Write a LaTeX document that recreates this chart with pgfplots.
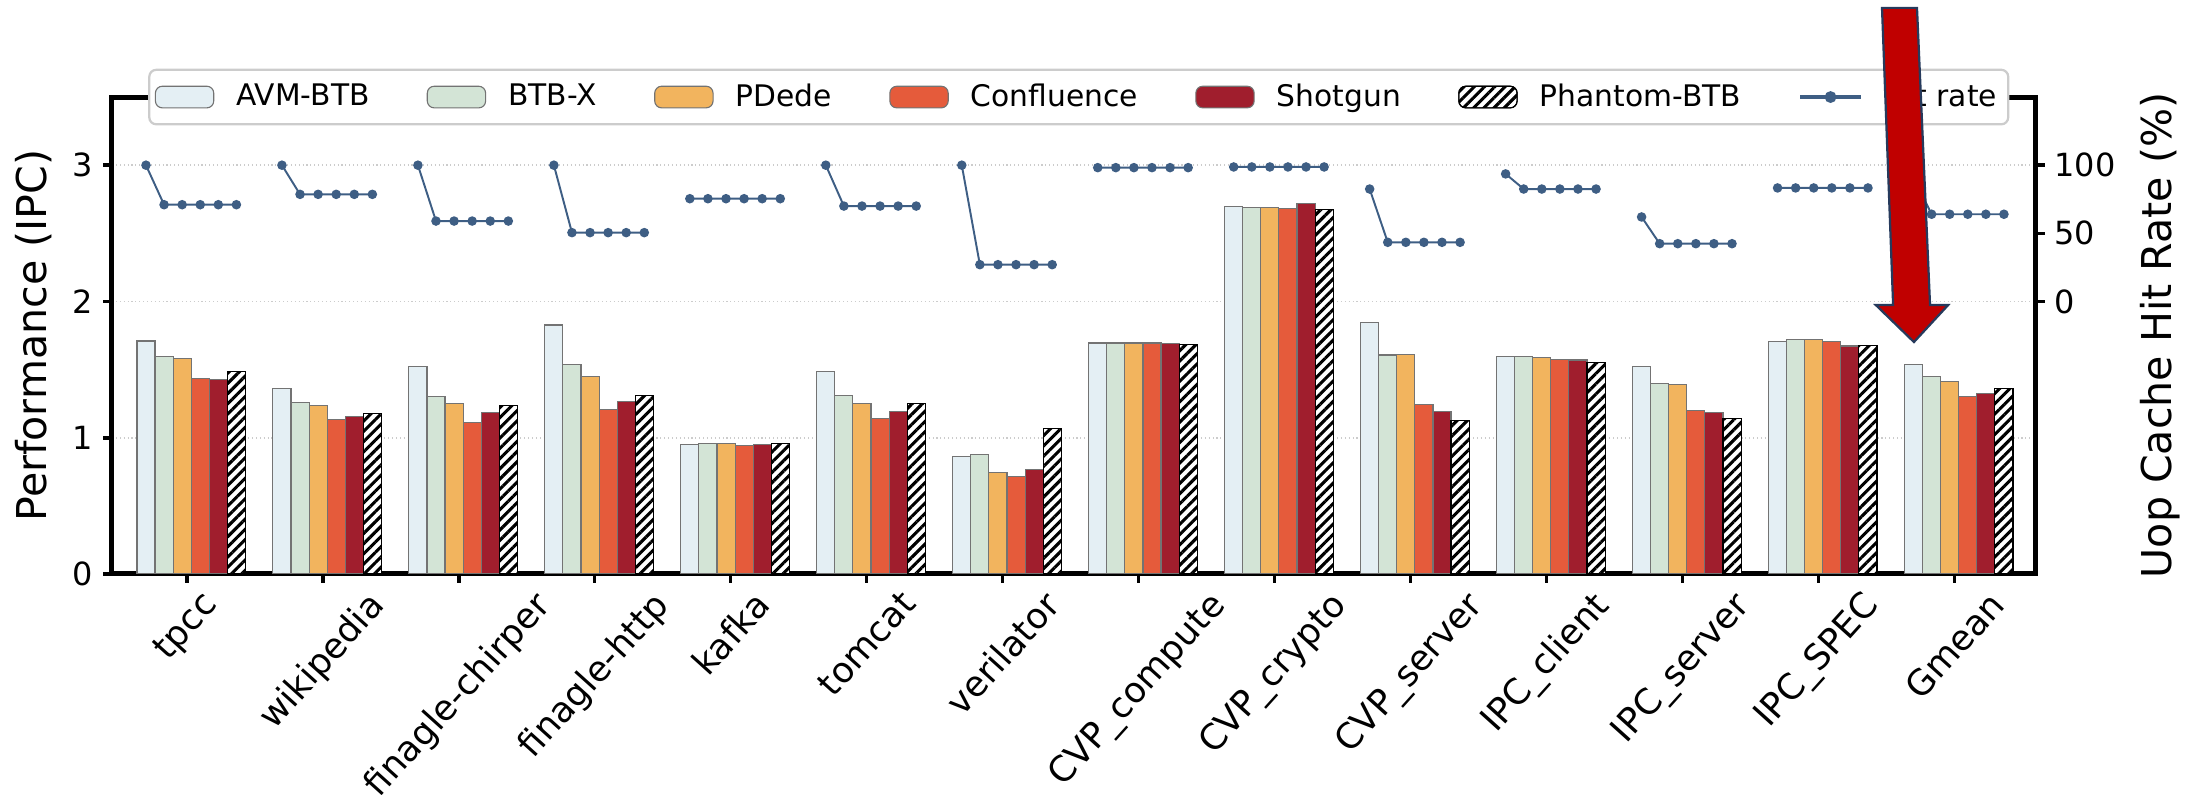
\documentclass[border=0pt]{standalone}
\usepackage{graphicx}
\usepackage{pgfplots}
\usepackage{pgfplotstable}
\pgfplotsset{compat=1.18}
\usetikzlibrary{patterns.meta}
\usepackage{fontspec}
\setmainfont{DejaVu Sans}

\definecolor{avmc}{RGB}{228,239,244}
\definecolor{btbxc}{RGB}{211,228,214}
\definecolor{pdedec}{RGB}{242,180,94}
\definecolor{confc}{RGB}{229,91,59}
\definecolor{shotc}{RGB}{160,30,45}
\definecolor{linec}{RGB}{62,94,132}
\definecolor{arrowred}{RGB}{192,0,0}
\definecolor{arrowedge}{RGB}{38,58,92}

\newcommand{\rl}[1]{\rotatebox{48}{#1}}

\pgfplotsset{
  barleg/.style={legend image code/.code={\draw[##1] (0pt,-3.9pt) rectangle (21pt,3.9pt);}},
  lineleg/.style={legend image code/.code={\draw[mark repeat=2,mark phase=2,##1] plot coordinates {(0pt,0pt) (11pt,0pt) (22pt,0pt)};}},
  mybar/.style={ybar, bar width=0.133, draw=black!55, line width=0.4pt, barleg},
}

\pgfplotstableread{
x avm btbx pdede conf shot phantom
0 1.71 1.597 1.58 1.433 1.425 1.484
1 1.36 1.259 1.237 1.134 1.156 1.176
2 1.523 1.305 1.249 1.109 1.185 1.234
3 1.827 1.54 1.45 1.205 1.269 1.31
4 0.948 0.955 0.955 0.945 0.953 0.958
5 1.489 1.308 1.249 1.141 1.193 1.249
6 0.865 0.877 0.742 0.715 0.767 1.065
7 1.695 1.695 1.695 1.695 1.692 1.687
8 2.694 2.692 2.687 2.679 2.719 2.677
9 1.844 1.607 1.614 1.242 1.195 1.129
10 1.597 1.597 1.587 1.575 1.57 1.553
11 1.521 1.396 1.391 1.203 1.185 1.139
12 1.707 1.719 1.719 1.707 1.673 1.675
13 1.54 1.45 1.413 1.303 1.323 1.359
}\bardata

\pgfplotstableread{
x rate
-0.300 100
-0.167 71
-0.034 71
0.099 71
0.232 71
0.365 71
0.5 nan
0.700 100
0.833 78.6
0.966 78.6
1.099 78.6
1.232 78.6
1.365 78.6
1.5 nan
1.700 100
1.833 59
1.966 59
2.099 59
2.232 59
2.365 59
2.5 nan
2.700 100
2.833 50.5
2.966 50.5
3.099 50.5
3.232 50.5
3.365 50.5
3.5 nan
3.700 75.4
3.833 75.4
3.966 75.4
4.099 75.4
4.232 75.4
4.365 75.4
4.5 nan
4.700 100
4.833 70
4.966 70
5.099 70
5.232 70
5.365 70
5.5 nan
5.700 100
5.833 27
5.966 27
6.099 27
6.232 27
6.365 27
6.5 nan
6.700 98.2
6.833 98.2
6.966 98.2
7.099 98.2
7.232 98.2
7.365 98.2
7.5 nan
7.700 98.7
7.833 98.7
7.966 98.7
8.099 98.7
8.232 98.7
8.365 98.7
8.5 nan
8.700 82.5
8.833 43.4
8.966 43.4
9.099 43.4
9.232 43.4
9.365 43.4
9.5 nan
9.700 93.6
9.833 82.5
9.966 82.5
10.099 82.5
10.232 82.5
10.365 82.5
10.5 nan
10.700 62
10.833 42.4
10.966 42.4
11.099 42.4
11.232 42.4
11.365 42.4
11.5 nan
11.700 83.3
11.833 83.3
11.966 83.3
12.099 83.3
12.232 83.3
12.365 83.3
12.5 nan
12.700 91
12.833 64
12.966 64
13.099 64
13.232 64
13.365 64
}\ratedata

\begin{document}
\begin{tikzpicture}
\begin{axis}[
  at={(0,0)}, anchor=south west,
  width=692.6pt, height=171.7pt, scale only axis,
  xmin=-0.55, xmax=13.6, ymin=0, ymax=3.5,
  ytick={0,1,2,3},
  xtick={0,1,2,3,4,5,6,7,8,9,10,11,12,13},
  xticklabels={{\rl{tpcc}},{\rl{wikipedia}},{\rl{finagle-chirper}},{\rl{finagle-http}},{\rl{kafka}},{\rl{tomcat}},{\rl{verilator}},{\rl{CVP\_compute}},{\rl{CVP\_crypto}},{\rl{CVP\_server}},{\rl{IPC\_client}},{\rl{IPC\_server}},{\rl{IPC\_SPEC}},{\rl{Gmean}}},
  xticklabel style={anchor=north, inner sep=2pt, font=\fontsize{12.7}{15}\selectfont},
  yticklabel style={font=\fontsize{11.5}{13}\selectfont},
  /pgf/number format/assume math mode=true,
  xtick pos=left, ytick pos=left,
  tick align=outside,
  major tick length=3.2pt,
  tick style={line width=1.3pt, black},
  axis line style={line width=1.8pt},
  ymajorgrids,
  major grid style={densely dotted, black!20, line width=0.6pt},
  ylabel={Performance (IPC)},
  ylabel style={at={(axis description cs:-0.041,0.5)}, anchor=center, font=\fontsize{14.8}{17}\selectfont},
  legend style={at={(0.5025,1)}, anchor=center, legend columns=7, draw=black!20, line width=0.8pt,
    rounded corners=2.5pt, fill=white, inner xsep=2pt, inner ysep=3pt,
    font=\fontsize{10.7}{12.5}\selectfont,
    /tikz/every even column/.append style={column sep=18.6pt},
    /tikz/every odd column/.append style={column sep=6pt}},
  legend cell align=left,
]
\addplot[mybar, bar shift=-0.300, fill=avmc] table[x=x, y=avm] {\bardata};
\addlegendentry{AVM-BTB}
\addplot[mybar, bar shift=-0.167, fill=btbxc] table[x=x, y=btbx] {\bardata};
\addlegendentry{BTB-X}
\addplot[mybar, bar shift=-0.034, fill=pdedec] table[x=x, y=pdede] {\bardata};
\addlegendentry{PDede}
\addplot[mybar, bar shift=0.099, fill=confc] table[x=x, y=conf] {\bardata};
\addlegendentry{Confluence}
\addplot[mybar, bar shift=0.232, fill=shotc] table[x=x, y=shot] {\bardata};
\addlegendentry{Shotgun}
\addplot[mybar, bar shift=0.365, fill=white, draw=black, postaction={pattern={Lines[angle=45,distance=2.6pt,line width=1.1pt]}, pattern color=black}] table[x=x, y=phantom] {\bardata};
\addlegendentry{Phantom-BTB}
\addlegendimage{lineleg, linec, line width=1.2pt, mark=*, mark size=1.5pt, mark options={fill=linec, draw=linec}}
\addlegendentry{Hit rate}
\end{axis}
\begin{axis}[
  at={(0,0)}, anchor=south west,
  width=692.6pt, height=171.7pt, scale only axis,
  xmin=-0.55, xmax=13.6, ymin=-200, ymax=150,
  axis x line=none, axis y line*=right,
  ytick={0,50,100},
  yticklabel style={font=\fontsize{11.5}{13}\selectfont},
  /pgf/number format/assume math mode=true,
  tick align=outside,
  major tick length=3.2pt,
  tick style={line width=1.3pt, black},
  axis line style={line width=1.8pt},
  ylabel={Uop Cache Hit Rate (\%)},
  ylabel style={at={(axis description cs:1.0644,0.5)}, anchor=center, font=\fontsize{14.8}{17}\selectfont},
]
\addplot[linec, line width=0.7pt, mark=*, mark size=1.35pt, mark options={fill=linec, draw=linec}, unbounded coords=jump] table[x=x, y=rate] {\ratedata};
\end{axis}
\draw[line width=0.8pt, draw=arrowedge, fill=arrowred, line join=miter] (637.2pt,203.8pt) -- (649.8pt,203.8pt) -- (654.5pt,96.8pt) -- (661.0pt,96.8pt) -- (648.7pt,83.5pt) -- (635.0pt,96.8pt) -- (641.2pt,96.8pt) -- cycle;
\pgfresetboundingbox
\path[use as bounding box] (-40.32pt,-79.56pt) rectangle (750.6pt,206.64pt);
\end{tikzpicture}
\end{document}
